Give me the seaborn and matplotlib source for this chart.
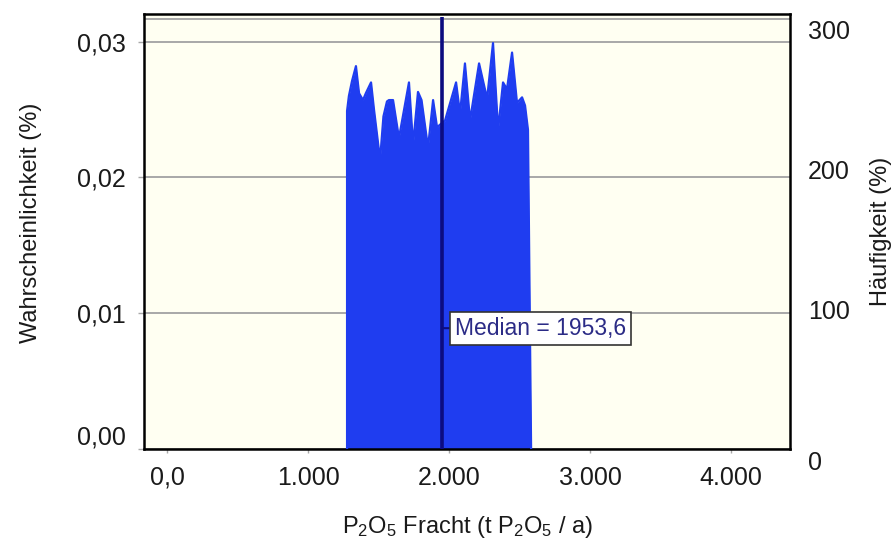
import matplotlib
matplotlib.use("Agg")
import matplotlib.pyplot as plt
import matplotlib.transforms as mtransforms
import numpy as np
import pandas as pd
import seaborn as sns

# Simulated P2O5 load distribution (t P2O5 / a) and its probability (%)
flux = [1277, 1277, 1290, 1312, 1340, 1362, 1390, 1410, 1447, 1468, 1511,
        1535, 1560, 1574, 1603, 1645, 1716, 1745, 1780, 1805, 1851, 1887,
        1915, 1972, 2050, 2078, 2113, 2149, 2213, 2270, 2312, 2348, 2383,
        2411, 2447, 2482, 2518, 2539, 2560, 2582]
prob = [0.0, 0.0249, 0.0260, 0.0271, 0.0282, 0.0262, 0.0257, 0.0262, 0.0270,
        0.0250, 0.0213, 0.0245, 0.0256, 0.0257, 0.0257, 0.0229, 0.0270,
        0.0224, 0.0263, 0.0257, 0.0222, 0.0257, 0.0237, 0.0242, 0.0270,
        0.0247, 0.0284, 0.0242, 0.0284, 0.0258, 0.0299, 0.0235, 0.0270,
        0.0265, 0.0292, 0.0255, 0.0259, 0.0253, 0.0235, 0.0]
median = 1953.6

x_ticks = [0, 1000, 2000, 3000, 4000]
x_tick_labels = ["0,0", "1.000", "2.000", "3.000", "4.000"]
y_ticks = [0.0, 0.01, 0.02, 0.03]
y_tick_labels = ["0,00", "0,01", "0,02", "0,03"]
freq_ticks = [0, 100, 200, 300]
freq_tick_labels = ["0", "100", "200", "300"]

FILL = "#1f3df0"
NAVY = "#0c0c80"
GRID = "#a8a8a8"
BG = "#fffff2"
TXT = "#1a1a1a"

sns.set_theme(style="white")
plt.rcParams["font.family"] = ["Liberation Sans", "DejaVu Sans"]
plt.rcParams["mathtext.fontset"] = "custom"
plt.rcParams["mathtext.rm"] = "Liberation Sans"
plt.rcParams["mathtext.it"] = "Liberation Sans:italic"
plt.rcParams["mathtext.default"] = "regular"

fig = plt.figure(figsize=(8.96, 5.45), dpi=100)
fig.patch.set_facecolor("white")
ax = fig.add_axes([144 / 896, 96 / 545, 646 / 896, 435 / 545])
ax.set_facecolor(BG)

df = pd.DataFrame({"flux": flux, "prob": prob})
ax.fill_between(df["flux"], df["prob"], color=FILL, lw=0, zorder=2)
# soft outline of the distribution profile
sns.lineplot(data=df, x="flux", y="prob", ax=ax, color=FILL, lw=1.6,
             sort=False, estimator=None, zorder=3, solid_joinstyle="round")

ax.set_xlim(-163, 4418)
ax.set_ylim(0, 0.03204)

# horizontal grid, kept behind the distribution
ax.set_axisbelow(True)
ax.yaxis.grid(True, color=GRID, lw=1.4)
ax.xaxis.grid(False)
ax.axhline(0.03167, color=GRID, lw=1.4, zorder=0.5)

# median marker
ax.vlines(median, 0, 0.0318, color=NAVY, lw=2.6, zorder=4)
ax.annotate("Median = 1953,6", xy=(median, 0.0089), xytext=(9, 0),
            textcoords="offset points", ha="left", va="center",
            fontsize=16.5, color="#2b2b86", zorder=5,
            bbox=dict(boxstyle="square,pad=0.22", fc="white",
                      ec="#333333", lw=1.2),
            arrowprops=dict(arrowstyle="-", color=NAVY, lw=1.5,
                            shrinkA=0, shrinkB=0))

ax.set_xticks(x_ticks)
ax.set_xticklabels(x_tick_labels)
ax.set_yticks(y_ticks)
ax.set_yticklabels(y_tick_labels)
ax.tick_params(axis="x", bottom=True, length=3, width=1, color=GRID,
               pad=9, labelsize=18, labelcolor=TXT)
ax.tick_params(axis="y", left=True, length=4, width=1, color=GRID,
               pad=9, labelsize=18, labelcolor=TXT)
ax.get_yticklabels()[0].set_verticalalignment("bottom")

for s in ax.spines.values():
    s.set_visible(True)
    s.set_color("black")
    s.set_linewidth(1.8)

ax.set_xlabel(r"P$_2$O$_5$ Fracht (t P$_2$O$_5$ / a)", fontsize=17,
              color=TXT)
ax.xaxis.set_label_coords(0.5, -0.15)
ax.set_ylabel("Wahrscheinlichkeit (%)", fontsize=17, color=TXT)
ax.yaxis.set_label_coords(-0.158, 0.52)

# secondary frequency scale
ax2 = ax.twinx()
ax2.set_ylim(0, 311)
ax2.set_yticks(freq_ticks)
ax2.set_yticklabels(freq_tick_labels)
ax2.tick_params(axis="y", right=True, length=0, pad=13, labelsize=18,
                labelcolor=TXT)
for s in ax2.spines.values():
    s.set_visible(False)
zero_lbl = ax2.get_yticklabels()[0]
zero_lbl.set_transform(zero_lbl.get_transform() +
                       mtransforms.ScaledTranslation(0, -12 / 100,
                                                     fig.dpi_scale_trans))
ax2.set_ylabel("Häufigkeit (%)", fontsize=17, color=TXT,
               rotation=90, labelpad=14)
ax2.grid(False)

fig.savefig("out.png", dpi=100, facecolor="white")
